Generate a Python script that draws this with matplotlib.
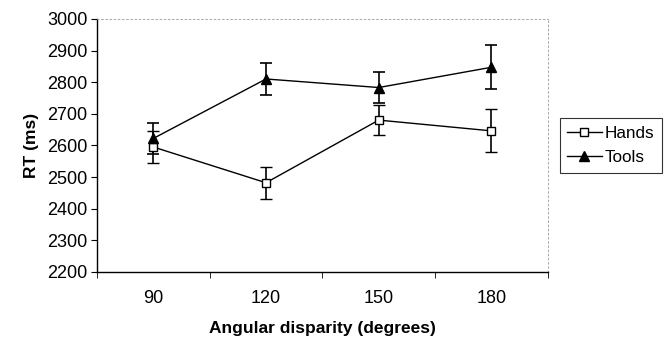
import matplotlib.pyplot as plt
from matplotlib.lines import Line2D
import numpy as np

plt.rcParams["font.family"] = ["Liberation Sans", "DejaVu Sans"]

categories = ["90", "120", "150", "180"]
hands = [2595, 2482, 2680, 2646]
hands_err = [50, 50, 48, 68]
tools = [2622, 2810, 2783, 2847]
tools_err = [50, 52, 50, 70]

x = np.arange(len(categories))

fig = plt.figure(figsize=(6.64, 3.37), dpi=100)
ax = fig.add_axes([0.146, 0.193, 0.679, 0.751])

ax.errorbar(x, hands, yerr=hands_err, color="black", lw=1, marker="s",
            ms=5.5, mfc="white", mec="black", mew=1, capsize=4.5,
            elinewidth=1.2, capthick=1.2, zorder=3)
ax.errorbar(x, tools, yerr=tools_err, color="black", lw=1, marker="^",
            ms=7, mfc="black", mec="black", capsize=4.5, elinewidth=1.2,
            capthick=1.2, zorder=3)

ax.set_xlim(-0.5, len(categories) - 0.5)
ax.set_ylim(2200, 3000)
ax.set_yticks(range(2200, 3001, 100))
ax.set_xticks(x)
ax.set_xticklabels(categories)
ax.set_xticks(np.arange(-0.5, len(categories)), minor=True)
ax.tick_params(axis="x", which="major", length=0, pad=13, labelsize=13)
ax.tick_params(axis="x", which="minor", length=4, direction="out")
ax.tick_params(axis="y", length=4, direction="out", labelsize=13, pad=3)

for side in ["top", "right"]:
    ax.spines[side].set_linestyle((0, (2, 3)))
    ax.spines[side].set_color("#999999")
    ax.spines[side].set_linewidth(0.6)
for side in ["left", "bottom"]:
    ax.spines[side].set_linewidth(1)

ax.set_xlabel("Angular disparity (degrees)", fontweight="bold", fontsize=12.5,
              labelpad=10)
ax.set_ylabel("RT (ms)", fontweight="bold", fontsize=12.5, labelpad=6)

handles = [
    Line2D([], [], color="black", lw=1, marker="s", ms=5.5, mfc="white",
           mec="black"),
    Line2D([], [], color="black", lw=1, marker="^", ms=7, mfc="black"),
]
leg = ax.legend(handles, ["Hands", "Tools"], loc="center left",
                bbox_to_anchor=(1.015, 0.5), frameon=True, fancybox=False,
                edgecolor="black", fontsize=12.3, handlelength=2.0,
                handletextpad=0.2, borderpad=0.45, labelspacing=0.55,
                borderaxespad=0.3)
leg.get_frame().set_linewidth(0.8)

fig.savefig("out.png", dpi=100)
